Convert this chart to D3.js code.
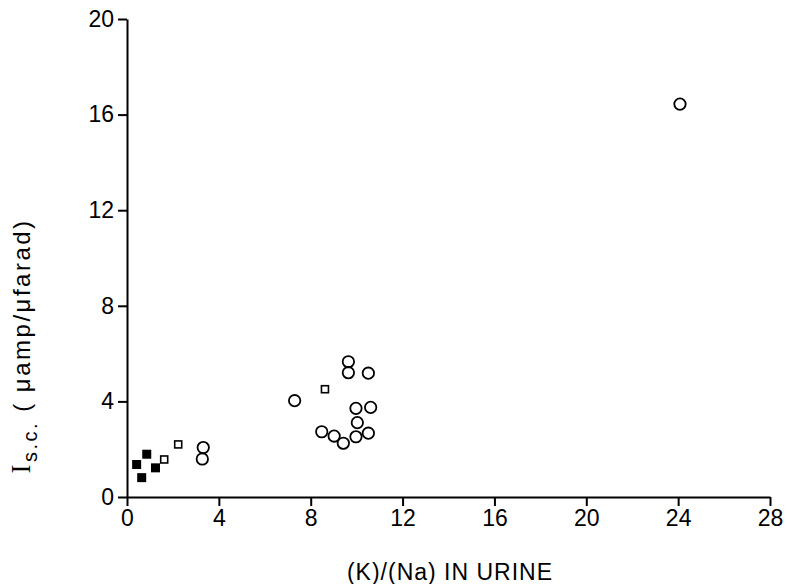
<!DOCTYPE html>
<html>
<head>
<meta charset="utf-8">
<script src="https://cdn.jsdelivr.net/npm/d3@7"></script>
<style>
  body { margin: 0; background: #fff; }
  text { font-family: "Liberation Sans", Arial, sans-serif; fill: #000; }
  .axis path, .axis line { stroke: #000; stroke-width: 2; }
  .axis text { font-size: 23px; }
</style>
</head>
<body>
<script>
// Data: [K/Na ratio, Isc]
var filledSquares = [[0.42, 1.36], [0.86, 1.79], [0.64, 0.81], [1.24, 1.22]];
var openSquares = [[1.62, 1.57], [2.23, 2.2], [8.62, 4.51]];
var circles = [
  [3.32, 2.07], [3.28, 1.59],
  [9.64, 5.66], [9.64, 5.20], [10.51, 5.18], [7.30, 4.03],
  [9.97, 3.71], [10.61, 3.75], [10.03, 3.11], [8.48, 2.73],
  [9.02, 2.55], [9.42, 2.25], [9.97, 2.52], [10.51, 2.67],
  [24.08, 16.44]
];
var xTicks = [0, 4, 8, 12, 16, 20, 24, 28];
var yTicks = [0, 4, 8, 12, 16, 20];

var width = 787, height = 584;

var x = d3.scaleLinear().domain([0, 28]).range([127, 770]),
    y = d3.scaleLinear().domain([0, 20]).range([497, 19]);

var svg = d3.select("body").append("svg")
    .attr("width", width)
    .attr("height", height);

// x axis
svg.append("g")
    .attr("class", "axis")
    .attr("transform", "translate(0," + y(0) + ")")
    .call(d3.axisBottom(x).tickValues(xTicks).tickSize(9).tickSizeOuter(0).tickPadding(4));

// y axis
svg.append("g")
    .attr("class", "axis")
    .attr("transform", "translate(" + x(0) + ",0)")
    .call(d3.axisLeft(y).tickValues(yTicks).tickSize(9).tickSizeOuter(0).tickPadding(4));

// axis titles
svg.append("text")
    .attr("x", 450)
    .attr("y", 580)
    .attr("text-anchor", "middle")
    .style("font-size", "23px")
    .style("letter-spacing", "1px")
    .text("(K)/(Na) IN URINE");

var ylab = svg.append("text")
    .attr("transform", "translate(30,346) rotate(-90)")
    .attr("text-anchor", "middle")
    .style("font-size", "24px")
    .style("letter-spacing", "2.5px");
ylab.append("tspan").style("font-family", "'Liberation Serif', serif").style("font-size", "27px").text("I");
ylab.append("tspan").attr("dy", 7).style("font-size", "20px").text("s.c.");
ylab.append("tspan").attr("dy", -7).text(" ( \u03bcamp/\u03bcfarad)");

// filled squares
svg.append("g").selectAll("rect")
    .data(filledSquares)
  .enter().append("rect")
    .attr("x", function(d) { return x(d[0]) - 4.5; })
    .attr("y", function(d) { return y(d[1]) - 4.5; })
    .attr("width", 9)
    .attr("height", 9)
    .attr("fill", "#000");

// open squares
svg.append("g").selectAll("rect")
    .data(openSquares)
  .enter().append("rect")
    .attr("x", function(d) { return x(d[0]) - 3.5; })
    .attr("y", function(d) { return y(d[1]) - 3.5; })
    .attr("width", 7)
    .attr("height", 7)
    .attr("fill", "none")
    .attr("stroke", "#000")
    .attr("stroke-width", 1.6);

// circles
svg.append("g").selectAll("circle")
    .data(circles)
  .enter().append("circle")
    .attr("cx", function(d) { return x(d[0]); })
    .attr("cy", function(d) { return y(d[1]); })
    .attr("r", 5.7)
    .attr("fill", "none")
    .attr("stroke", "#000")
    .attr("stroke-width", 1.8);
</script>
</body>
</html>
